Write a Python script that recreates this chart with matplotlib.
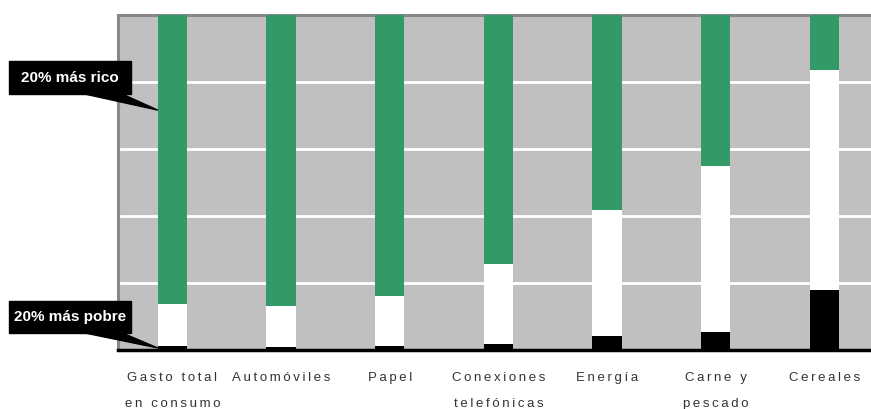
import matplotlib
matplotlib.use("Agg")
import matplotlib.pyplot as plt
from matplotlib.patches import Polygon, Rectangle
from matplotlib.transforms import blended_transform_factory

# ---- data (percent of consumption) ----
categories = [["Gasto total", "en consumo"], ["Automóviles"], ["Papel"],
              ["Conexiones", "telefónicas"], ["Energía"], ["Carne y", "pescado"], ["Cereales"]]
poorest = [1.2, 1.0, 1.1, 1.8, 4.2, 5.4, 17.9]
richest = [86.3, 86.9, 83.9, 74.3, 58.2, 45.0, 16.4]
middle = [100 - p - r for p, r in zip(poorest, richest)]

GREEN = "#339966"
GRAY = "#c0c0c0"
W, H, DPI = 871, 409, 100

fig = plt.figure(figsize=(W / DPI, H / DPI), dpi=DPI)
ax = fig.add_axes([118 / W, 1 - 350 / H, 1 - 118 / W, (350 - 15) / H])
ax.set_facecolor(GRAY)
x = list(range(len(categories)))
bw = 0.27
ax.bar(x, poorest, width=bw, color="black", zorder=3)
ax.bar(x, middle, width=bw, bottom=poorest, color="white", zorder=3)
ax.bar(x, richest, width=bw, bottom=[p + m for p, m in zip(poorest, middle)], color=GREEN, zorder=3)

ax.set_xlim(-0.5015, 6.428)
ax.set_ylim(0, 100)
ax.set_yticks([20, 40, 60, 80])
ax.yaxis.grid(True, color="white", linewidth=2)
ax.set_axisbelow(True)
ax.tick_params(left=False, bottom=False, labelleft=False, labelbottom=False)
ax.spines["right"].set_visible(False)
ax.spines["top"].set_color("#888888")
ax.spines["top"].set_linewidth(2.2)
ax.spines["left"].set_color("#888888")
ax.spines["left"].set_linewidth(2.2)
ax.spines["bottom"].set_color("black")
ax.spines["bottom"].set_linewidth(2.5)
ax.spines["bottom"].set_zorder(5)

# category labels with letter spacing
TS = "\u2009"
def spaced(s):
    return TS.join(list(s))

tr = blended_transform_factory(ax.transData, fig.transFigure)
for i, lines in enumerate(categories):
    for j, line in enumerate(lines):
        ax.text(i, 1 - (378 + 26 * j) / H, spaced(line), transform=tr,
                ha="center", va="center", fontsize=9.5, color="#333333",
                family=["Liberation Sans", "DejaVu Sans"], clip_on=False)

# callouts
fig.canvas.draw()
px = fig.dpi / DPI
def callout(label, box, tip_data):
    x0, y0, x1, y1 = box  # pixel coords, y from top
    rect = Rectangle((x0 * px, (H - y1) * px), (x1 - x0) * px, (y1 - y0) * px,
                     transform=None, color="black", zorder=10)
    fig.patches.append(rect)
    tip = ax.transData.transform(tip_data)
    poly = Polygon([(80 * px, (H - y1 + 1) * px), (120 * px, (H - y1 + 1) * px), tuple(tip)],
                   closed=True, transform=None, color="black", zorder=10)
    fig.patches.append(poly)
    fig.text((x0 + x1) / 2 / W, 1 - ((y0 + y1) / 2 + 0.5) / H, label, ha="center", va="center",
             color="white", fontsize=11, fontweight="bold",
             family=["Liberation Sans Narrow", "Liberation Sans", "DejaVu Sans"], zorder=11)

callout("20% más rico", (9, 61, 131, 94), (-bw / 2, 71.6))
callout("20% más pobre", (9, 301, 131, 333), (-bw / 2, 0.6))

fig.savefig("out.png", dpi=DPI)
